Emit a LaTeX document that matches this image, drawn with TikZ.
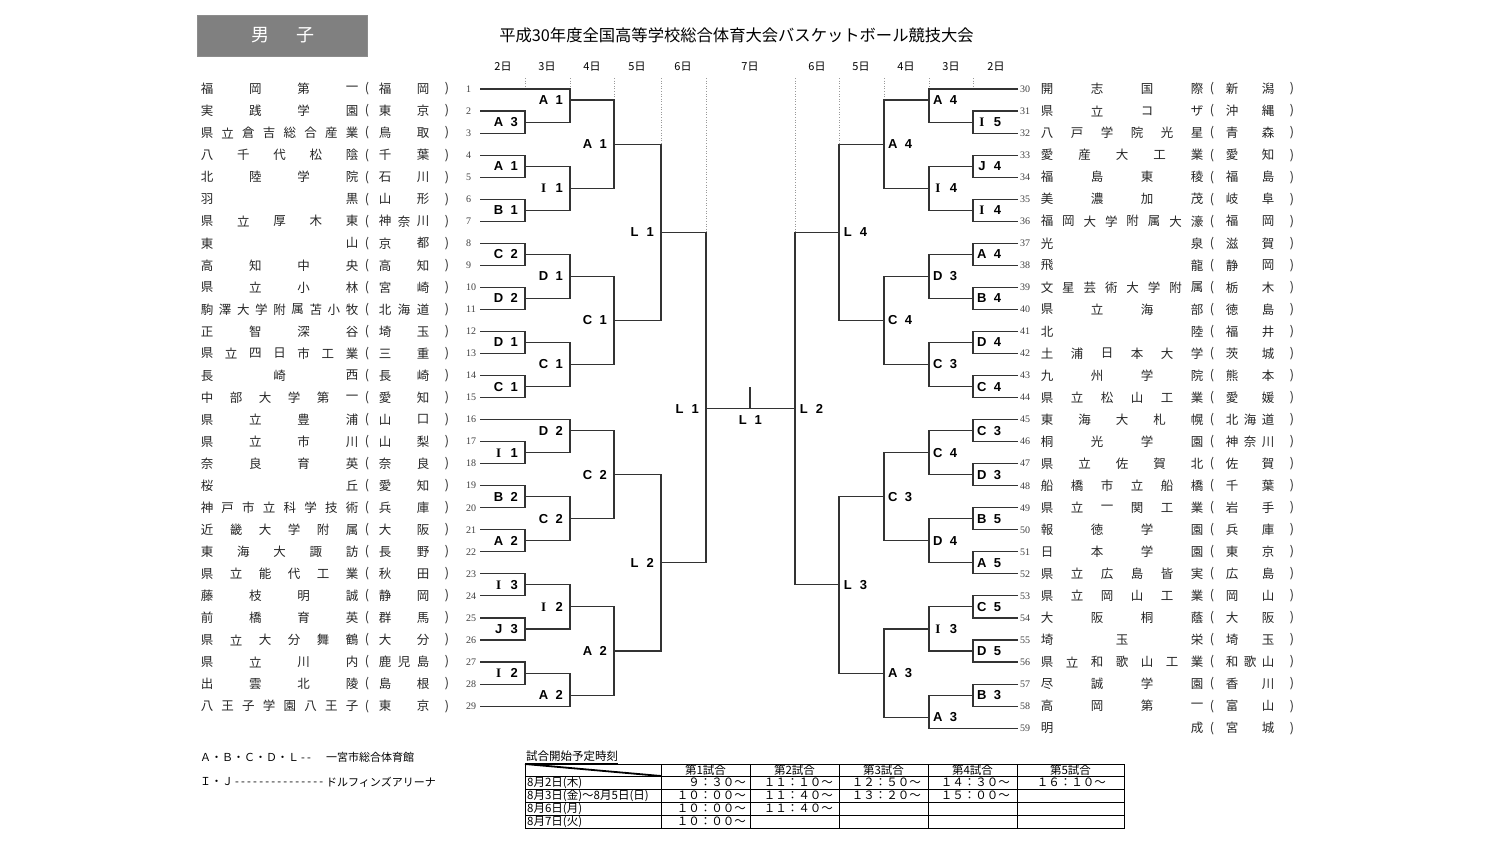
\documentclass[tikz,border=0pt]{standalone}
\usepackage{fontspec}
\setmainfont{Noto Sans CJK JP}
\newfontfamily\latf{Liberation Sans}
\newfontfamily\serf{Liberation Serif}
\tikzset{
 txt/.style={inner sep=0pt, font=\fontsize{12.5}{12.5}\selectfont, text=black!85},
 num/.style={inner sep=0pt, font=\serf\fontsize{10}{10}\selectfont, text=black!75},
 lbl/.style={inner sep=0pt, font=\latf\bfseries\fontsize{13}{13}\selectfont},
 br/.style={line width=1.1pt, draw=black!80},
 guide/.style={line width=0.6pt, draw=black!40, dotted},
 day/.style={inner sep=0pt, font=\fontsize{11}{11}\selectfont},
 leg/.style={inner sep=0pt, font=\fontsize{11}{11}\selectfont, anchor=west},
 tab/.style={line width=0.9pt, draw=black},
 tabt/.style={inner sep=0pt, font=\fontsize{11.5}{11.5}\selectfont},
}
\ExplSyntaxOn
\int_new:N \l_rk_n_int
\int_new:N \l_rk_i_int
\tl_new:N \l_rk_x_tl
\cs_new_protected:Npn \rk_spread:nnnnn #1#2#3#4#5
  {
    \int_set:Nn \l_rk_n_int { \tl_count:n {#4} }
    \int_zero:N \l_rk_i_int
    \tl_map_inline:nn {#4}
      {
        \tl_set:Nx \l_rk_x_tl
          { \fp_eval:n { #1 + (#2 - #1) * \l_rk_i_int / max ( \l_rk_n_int - 1 , 1 ) } }
        \int_incr:N \l_rk_i_int
        \node [ txt , name = #5 - \int_use:N \l_rk_i_int ] ~ at ~ ( \l_rk_x_tl , #3 ) ~ { ##1 } ;
      }
  }
\NewDocumentCommand \spreadchars { m m m m m } { \rk_spread:nnnnn {#1} {#2} {#3} {#4} {#5} }
\ExplSyntaxOff
\newcommand\lteam[3]{%
 \pgfmathsetmacro\yy{89+(#1-1)*22.04}%
 \spreadchars{207}{352}{\yy}{#2}{ln#1}%
 \node[txt] (lo#1) at (367,\yy) {(};%
 \spreadchars{385}{423}{\yy}{#3}{lp#1}%
 \node[txt] (lc#1) at (447,\yy) {)};%
 \node[num, anchor=west] (n#1) at (466,\yy) {#1};%
 \coordinate (t#1) at (480,\yy);}
\newcommand\rteam[3]{%
 \pgfmathsetmacro\yy{89+(#1-30)*22.04}%
 \coordinate (t#1) at (1018,\yy);%
 \node[num, anchor=west] (n#1) at (1020,\yy) {#1};%
 \spreadchars{1047}{1197}{\yy}{#2}{rn#1}%
 \node[txt] (ro#1) at (1212,\yy) {(};%
 \spreadchars{1232}{1268}{\yy}{#3}{rp#1}%
 \node[txt] (rc#1) at (1292,\yy) {)};}
\newcommand\mpt[3]{\coordinate (#1) at (#2,{89+#3*11.02});}
\newcommand\labL[3]{\node[lbl,anchor=east] (lab#1) at ([xshift=-7pt]#1) {\makebox[9.4pt]{#2}\ \ #3};}
\newcommand\labR[3]{\node[lbl,anchor=west] (lab#1) at ([xshift=4pt]#1) {\makebox[9.4pt]{#2}\ \ #3};}
\newcommand\II{{\serf\bfseries I}}
\newcommand\hyps[1]{\foreach \q in {1,...,#1}{-\kern2.2pt}}
\begin{document}
\begin{tikzpicture}[x=1pt,y=-1pt]
\useasboundingbox (0,0) rectangle (1500,844);
\fill[white] (0,0) rectangle (1500,844);
% title
\node[draw=black!45, fill=black!50, minimum width=170pt, minimum height=41pt, inner sep=0pt] (box) at (282,35.5) {};
\node[inner sep=0pt, text=white, font=\fontsize{18}{18}\selectfont] (boy) at (260,35.5) {男};
\node[inner sep=0pt, text=white, font=\fontsize{18}{18}\selectfont] (child) at (305,35.5) {子};
\node[inner sep=0pt, font=\fontsize{16.3}{16.3}\selectfont] (title) at (736.5,35) {平成30年度全国高等学校総合体育大会バスケットボール競技大会};
% days
\node[day] (d1) at (503,67) {2日};
\node[day] (d2) at (547,67) {3日};
\node[day] (d3) at (592,67) {4日};
\node[day] (d4) at (637,67) {5日};
\node[day] (d5) at (683,67) {6日};
\node[day] (d6) at (750,67) {7日};
\node[day] (d7) at (817,67) {6日};
\node[day] (d8) at (861,67) {5日};
\node[day] (d9) at (906,67) {4日};
\node[day] (d10) at (951,67) {3日};
\node[day] (d11) at (996,67) {2日};
% guides
\draw[guide] (525,78) -- (525,89);
\draw[guide] (570,78) -- (570,89);
\draw[guide] (614,78) -- (614,100);
\draw[guide] (661,78) -- (661,144);
\draw[guide] (706,78) -- (706,232);
\draw[guide] (795,78) -- (795,232);
\draw[guide] (839,78) -- (839,144);
\draw[guide] (884,78) -- (884,100);
\draw[guide] (929,78) -- (929,89);
\draw[guide] (973,78) -- (973,89);
% left teams
\lteam{1}{福岡第一}{福岡}
\lteam{2}{実践学園}{東京}
\lteam{3}{県立倉吉総合産業}{鳥取}
\lteam{4}{八千代松陰}{千葉}
\lteam{5}{北陸学院}{石川}
\lteam{6}{羽黒}{山形}
\lteam{7}{県立厚木東}{神奈川}
\lteam{8}{東山}{京都}
\lteam{9}{高知中央}{高知}
\lteam{10}{県立小林}{宮崎}
\lteam{11}{駒澤大学附属苫小牧}{北海道}
\lteam{12}{正智深谷}{埼玉}
\lteam{13}{県立四日市工業}{三重}
\lteam{14}{長崎西}{長崎}
\lteam{15}{中部大学第一}{愛知}
\lteam{16}{県立豊浦}{山口}
\lteam{17}{県立市川}{山梨}
\lteam{18}{奈良育英}{奈良}
\lteam{19}{桜丘}{愛知}
\lteam{20}{神戸市立科学技術}{兵庫}
\lteam{21}{近畿大学附属}{大阪}
\lteam{22}{東海大諏訪}{長野}
\lteam{23}{県立能代工業}{秋田}
\lteam{24}{藤枝明誠}{静岡}
\lteam{25}{前橋育英}{群馬}
\lteam{26}{県立大分舞鶴}{大分}
\lteam{27}{県立川内}{鹿児島}
\lteam{28}{出雲北陵}{島根}
\lteam{29}{八王子学園八王子}{東京}
% right teams
\rteam{30}{開志国際}{新潟}
\rteam{31}{県立コザ}{沖縄}
\rteam{32}{八戸学院光星}{青森}
\rteam{33}{愛産大工業}{愛知}
\rteam{34}{福島東稜}{福島}
\rteam{35}{美濃加茂}{岐阜}
\rteam{36}{福岡大学附属大濠}{福岡}
\rteam{37}{光泉}{滋賀}
\rteam{38}{飛龍}{静岡}
\rteam{39}{文星芸術大学附属}{栃木}
\rteam{40}{県立海部}{徳島}
\rteam{41}{北陸}{福井}
\rteam{42}{土浦日本大学}{茨城}
\rteam{43}{九州学院}{熊本}
\rteam{44}{県立松山工業}{愛媛}
\rteam{45}{東海大札幌}{北海道}
\rteam{46}{桐光学園}{神奈川}
\rteam{47}{県立佐賀北}{佐賀}
\rteam{48}{船橋市立船橋}{千葉}
\rteam{49}{県立一関工業}{岩手}
\rteam{50}{報徳学園}{兵庫}
\rteam{51}{日本学園}{東京}
\rteam{52}{県立広島皆実}{広島}
\rteam{53}{県立岡山工業}{岡山}
\rteam{54}{大阪桐蔭}{大阪}
\rteam{55}{埼玉栄}{埼玉}
\rteam{56}{県立和歌山工業}{和歌山}
\rteam{57}{尽誠学園}{香川}
\rteam{58}{高岡第一}{富山}
\rteam{59}{明成}{宮城}
% ---- left bracket
\mpt{a1}{525}{3}\mpt{a2}{525}{7}\mpt{a3}{525}{11}\mpt{a4}{525}{15}\mpt{a5}{525}{19}
\mpt{a6}{525}{23}\mpt{a7}{525}{27}\mpt{a8}{525}{33}\mpt{a9}{525}{37}\mpt{a10}{525}{41}
\mpt{a11}{525}{45}\mpt{a12}{525}{49}\mpt{a13}{525}{53}
\mpt{b1}{570}{1}\mpt{b2}{570}{9}\mpt{b3}{570}{17}\mpt{b4}{570}{25}
\mpt{b5}{570}{31}\mpt{b6}{570}{39}\mpt{b7}{570}{47}\mpt{b8}{570}{55}
\mpt{c1}{614}{5}\mpt{c2}{614}{21}\mpt{c3}{614}{35}\mpt{c4}{614}{51}
\mpt{dd1}{661}{13}\mpt{dd2}{661}{43}
\mpt{sL}{706}{29}
\draw[br] (t2) -| (a1) |- (t3);
\draw[br] (t4) -| (a2) |- (t5);
\draw[br] (t6) -| (a3) |- (t7);
\draw[br] (t8) -| (a4) |- (t9);
\draw[br] (t10) -| (a5) |- (t11);
\draw[br] (t12) -| (a6) |- (t13);
\draw[br] (t14) -| (a7) |- (t15);
\draw[br] (t17) -| (a8) |- (t18);
\draw[br] (t19) -| (a9) |- (t20);
\draw[br] (t21) -| (a10) |- (t22);
\draw[br] (t23) -| (a11) |- (t24);
\draw[br] (t25) -| (a12) |- (t26);
\draw[br] (t27) -| (a13) |- (t28);
\draw[br] (t1) -| (b1) |- (a1);
\draw[br] (a2) -| (b2) |- (a3);
\draw[br] (a4) -| (b3) |- (a5);
\draw[br] (a6) -| (b4) |- (a7);
\draw[br] (t16) -| (b5) |- (a8);
\draw[br] (a9) -| (b6) |- (a10);
\draw[br] (a11) -| (b7) |- (a12);
\draw[br] (a13) -| (b8) |- (t29);
\draw[br] (b1) -| (c1) |- (b2);
\draw[br] (b3) -| (c2) |- (b4);
\draw[br] (b5) -| (c3) |- (b6);
\draw[br] (b7) -| (c4) |- (b8);
\draw[br] (c1) -| (dd1) |- (c2);
\draw[br] (c3) -| (dd2) |- (c4);
\draw[br] (dd1) -| (sL) |- (dd2);
\labL{a1}{A}{3}\labL{a2}{A}{1}\labL{a3}{B}{1}\labL{a4}{C}{2}\labL{a5}{D}{2}
\labL{a6}{D}{1}\labL{a7}{C}{1}\labL{a8}{\II}{1}\labL{a9}{B}{2}\labL{a10}{A}{2}
\labL{a11}{\II}{3}\labL{a12}{J}{3}\labL{a13}{\II}{2}
\labL{b1}{A}{1}\labL{b2}{\II}{1}\labL{b3}{D}{1}\labL{b4}{C}{1}
\labL{b5}{D}{2}\labL{b6}{C}{2}\labL{b7}{\II}{2}\labL{b8}{A}{2}
\labL{c1}{A}{1}\labL{c2}{C}{1}\labL{c3}{C}{2}\labL{c4}{A}{2}
\labL{dd1}{L}{1}\labL{dd2}{L}{2}\labL{sL}{L}{1}
% ---- right bracket
\mpt{e1}{973}{3}\mpt{e2}{973}{7}\mpt{e3}{973}{11}\mpt{e4}{973}{15}\mpt{e5}{973}{19}
\mpt{e6}{973}{23}\mpt{e7}{973}{27}\mpt{e8}{973}{31}\mpt{e9}{973}{35}\mpt{e10}{973}{39}
\mpt{e11}{973}{43}\mpt{e12}{973}{47}\mpt{e13}{973}{51}\mpt{e14}{973}{55}
\mpt{f1}{929}{1}\mpt{f2}{929}{9}\mpt{f3}{929}{17}\mpt{f4}{929}{25}
\mpt{f5}{929}{33}\mpt{f6}{929}{41}\mpt{f7}{929}{49}\mpt{f8}{929}{57}
\mpt{g1}{884}{5}\mpt{g2}{884}{21}\mpt{g3}{884}{37}\mpt{g4}{884}{53}
\mpt{h1}{839}{13}\mpt{h2}{839}{45}
\mpt{sR}{795}{29}
\draw[br] (t31) -| (e1) |- (t32);
\draw[br] (t33) -| (e2) |- (t34);
\draw[br] (t35) -| (e3) |- (t36);
\draw[br] (t37) -| (e4) |- (t38);
\draw[br] (t39) -| (e5) |- (t40);
\draw[br] (t41) -| (e6) |- (t42);
\draw[br] (t43) -| (e7) |- (t44);
\draw[br] (t45) -| (e8) |- (t46);
\draw[br] (t47) -| (e9) |- (t48);
\draw[br] (t49) -| (e10) |- (t50);
\draw[br] (t51) -| (e11) |- (t52);
\draw[br] (t53) -| (e12) |- (t54);
\draw[br] (t55) -| (e13) |- (t56);
\draw[br] (t57) -| (e14) |- (t58);
\draw[br] (t30) -| (f1) |- (e1);
\draw[br] (e2) -| (f2) |- (e3);
\draw[br] (e4) -| (f3) |- (e5);
\draw[br] (e6) -| (f4) |- (e7);
\draw[br] (e8) -| (f5) |- (e9);
\draw[br] (e10) -| (f6) |- (e11);
\draw[br] (e12) -| (f7) |- (e13);
\draw[br] (e14) -| (f8) |- (t59);
\draw[br] (f1) -| (g1) |- (f2);
\draw[br] (f3) -| (g2) |- (f4);
\draw[br] (f5) -| (g3) |- (f6);
\draw[br] (f7) -| (g4) |- (f8);
\draw[br] (g1) -| (h1) |- (g2);
\draw[br] (g3) -| (h2) |- (g4);
\draw[br] (h1) -| (sR) |- (h2);
\labR{e1}{\II}{5}\labR{e2}{J}{4}\labR{e3}{\II}{4}\labR{e4}{A}{4}\labR{e5}{B}{4}
\labR{e6}{D}{4}\labR{e7}{C}{4}\labR{e8}{C}{3}\labR{e9}{D}{3}\labR{e10}{B}{5}
\labR{e11}{A}{5}\labR{e12}{C}{5}\labR{e13}{D}{5}\labR{e14}{B}{3}
\labR{f1}{A}{4}\labR{f2}{\II}{4}\labR{f3}{D}{3}\labR{f4}{C}{3}
\labR{f5}{C}{4}\labR{f6}{D}{4}\labR{f7}{\II}{3}\labR{f8}{A}{3}
\labR{g1}{A}{4}\labR{g2}{C}{4}\labR{g3}{C}{3}\labR{g4}{A}{3}
\labR{h1}{L}{4}\labR{h2}{L}{3}\labR{sR}{L}{2}
% final
\coordinate (fc) at (750,{89+29*11.02});
\coordinate (fct) at (750,387);
\draw[br] (sL) -- (sR);
\draw[br] (fct) -- (fc);
\node[lbl] (labF) at (750,420) {\makebox[9.4pt]{L}\ \ 1};
% legend
\node[leg] (lg1a) at (200,757) {Ａ・Ｂ・Ｃ・Ｄ・Ｌ\kern2pt\hyps{2}};
\node[leg] (lg1b) at (326,757) {一宮市総合体育館};
\node[leg] (lg2a) at (200,782) {Ｉ・Ｊ\kern2pt\hyps{15}};
\node[leg] (lg2b) at (326,782) {ドルフィンズアリーナ};
% table
\node[tabt, anchor=west] (tt) at (526,756.5) {試合開始予定時刻};
\draw[line width=0.6pt] ([yshift=-1pt]tt.south west) -- ([yshift=-1pt]tt.south east);
\draw[tab] (525,764) rectangle (1124,828);
\foreach \yq in {776,789,802,815} \draw[tab] (525,\yq) -- (1124,\yq);
\foreach \xq in {661,750,839,928,1017} \draw[tab] (\xq,764) -- (\xq,828);
\draw[line width=1.8pt] (525,764) -- (661,776);
\node[tabt] (h1c) at (705.5,770) {第1試合};
\node[tabt] (h2c) at (794.5,770) {第2試合};
\node[tabt] (h3c) at (883.5,770) {第3試合};
\node[tabt] (h4c) at (972.5,770) {第4試合};
\node[tabt] (h5c) at (1070.5,770) {第5試合};
\node[tabt, anchor=west] (r1) at (527,782.5) {8月2日(木)};
\node[tabt, anchor=west] (r2) at (527,795.5) {8月3日(金)～8月5日(日)};
\node[tabt, anchor=west] (r3) at (527,808.5) {8月6日(月)};
\node[tabt, anchor=west] (r4) at (527,821.5) {8月7日(火)};
\node[tabt, anchor=east] (v11) at (746,782.5) {９：３０～};
\node[tabt, anchor=east] (v12) at (833,782.5) {１１：１０～};
\node[tabt, anchor=east] (v13) at (921,782.5) {１２：５０～};
\node[tabt, anchor=east] (v14) at (1010,782.5) {１４：３０～};
\node[tabt, anchor=east] (v15) at (1106,782.5) {１６：１０～};
\node[tabt, anchor=east] (v21) at (746,795.5) {１０：００～};
\node[tabt, anchor=east] (v22) at (833,795.5) {１１：４０～};
\node[tabt, anchor=east] (v23) at (921,795.5) {１３：２０～};
\node[tabt, anchor=east] (v24) at (1010,795.5) {１５：００～};
\node[tabt, anchor=east] (v31) at (746,808.5) {１０：００～};
\node[tabt, anchor=east] (v32) at (833,808.5) {１１：４０～};
\node[tabt, anchor=east] (v41) at (746,821.5) {１０：００～};
\end{tikzpicture}
\end{document}
